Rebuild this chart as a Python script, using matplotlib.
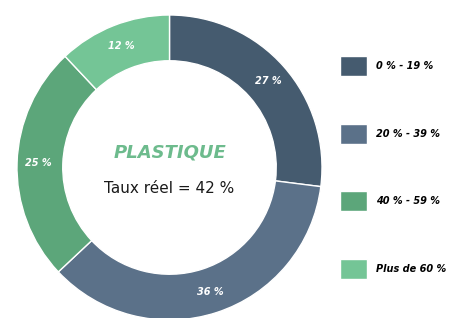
import matplotlib.pyplot as plt

# donnees
classes = ['0 % - 19 %', '20 % - 39 %', '40 % - 59 %', 'Plus de 60 %']
parts = [27, 36, 25, 12]
couleurs = ['#455b6f', '#5b7189', '#5ca67a', '#74c596']
titre = 'PLASTIQUE'
sous_titre = 'Taux réel = 42 %'

fig = plt.figure(figsize=(4.61, 3.18), dpi=100)
ax = fig.add_axes([17/461, -2/318, 305/461, 305/318])

wedges, txt, pct = ax.pie(parts, colors=couleurs, startangle=90, counterclock=False,
                          radius=1, autopct=lambda p: '%d %%' % round(p), pctdistance=0.86,
                          wedgeprops=dict(width=0.30, edgecolor='white', linewidth=1))
for t in pct:
    t.set_color('white')
    t.set_fontsize(7)
    t.set_fontweight('bold')
    t.set_fontstyle('italic')

ax.text(0, 0.10, titre, ha='center', va='center', color='#6dbb8d',
        fontsize=13, fontweight='bold', fontstyle='italic')
ax.text(0, -0.14, sous_titre, ha='center', va='center', color='#1a1a1a', fontsize=11)
ax.set_xlim(-1, 1)
ax.set_ylim(-1, 1)
ax.set_aspect('equal')
ax.axis('off')

fig.legend(wedges, classes, loc='center left', bbox_to_anchor=(340/461, 1 - 167.5/318),
           frameon=False, handlelength=2.8, handleheight=2.8,
           labelspacing=4.9, handletextpad=0.9, borderpad=0, borderaxespad=0,
           prop=dict(size=7, weight='bold', style='italic'))

fig.savefig('out.png', dpi=100)
